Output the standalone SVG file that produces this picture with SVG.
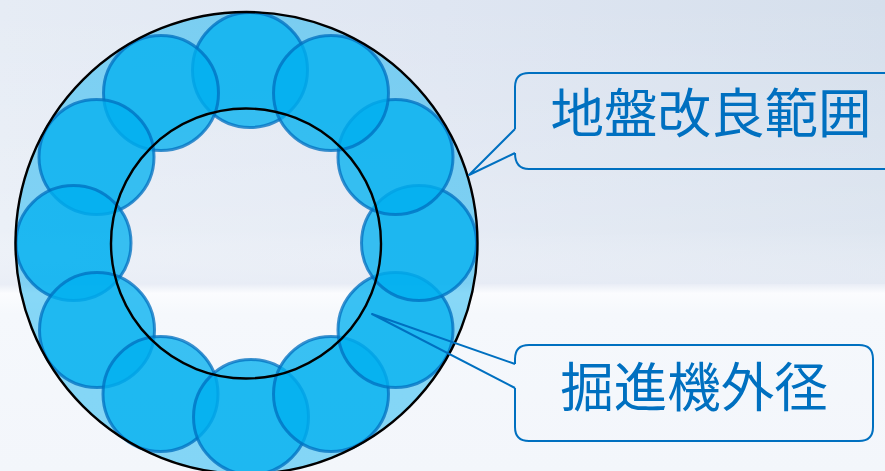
<svg xmlns="http://www.w3.org/2000/svg" width="885" height="471" viewBox="0 0 885 471">
<style>
.pile{fill:#00b0f0;fill-opacity:.77;stroke:#0070c0;stroke-opacity:.76;stroke-width:3}
.ring{fill:none;stroke:#000;stroke-width:2.4}
.call{stroke:#0070c0;stroke-width:2;stroke-linejoin:round}
.lbl{font-family:"Noto Sans CJK JP","Noto Sans",sans-serif;font-size:53.500px;fill:#0070c0;text-anchor:middle}
</style>
<defs>
<linearGradient id="top" x1="0" y1="0" x2="1" y2="0"><stop offset="0" stop-color="#e6ecf5"/><stop offset=".5" stop-color="#dfe6f2"/><stop offset="1" stop-color="#d5dfec"/></linearGradient>
<linearGradient id="fade" x1="0" y1="0" x2="0" y2="1"><stop offset="0" stop-color="#fff" stop-opacity="0"/><stop offset=".8" stop-color="#fff" stop-opacity=".22"/><stop offset="1" stop-color="#e9edf6" stop-opacity=".7"/></linearGradient>
<linearGradient id="bot" x1="0" y1="0" x2="0" y2="1"><stop offset="0" stop-color="#e9edf6"/><stop offset=".05" stop-color="#fbfcfe"/><stop offset=".16" stop-color="#f5f8fc"/><stop offset="1" stop-color="#f3f6fb"/></linearGradient>
</defs>
<g id="background">
<rect width="885" height="290" fill="url(#top)"/>
<rect width="885" height="290" fill="url(#fade)"/>
<rect y="284" width="885" height="187" fill="url(#bot)"/>
</g>
<g id="improvement-ring">
<path fill="#00aef0" fill-opacity=".46" fill-rule="evenodd" d="M15.500 243a231 231 0 1 0 462 0a231 231 0 1 0 -462 0ZM111 243.500a135 135 0 1 0 270 0a135 135 0 1 0 -270 0Z"/>
</g>
<g id="piles">
<circle class="pile" cx="250" cy="70" r="57.500"/>
<circle class="pile" cx="161" cy="93" r="57.500"/>
<circle class="pile" cx="96.500" cy="157" r="57.500"/>
<circle class="pile" cx="73.500" cy="243" r="57.500"/>
<circle class="pile" cx="97" cy="330" r="57.500"/>
<circle class="pile" cx="160.500" cy="394" r="57.500"/>
<circle class="pile" cx="251" cy="417" r="57.500"/>
<circle class="pile" cx="331" cy="394" r="57.500"/>
<circle class="pile" cx="395.500" cy="330" r="57.500"/>
<circle class="pile" cx="419" cy="243" r="57.500"/>
<circle class="pile" cx="395.500" cy="157" r="57.500"/>
<circle class="pile" cx="331" cy="93" r="57.500"/>
</g>
<g id="outlines">
<circle class="ring" cx="246.500" cy="243" r="231"/>
<circle class="ring" cx="246" cy="243.500" r="135"/>
</g>
<g id="connectors">
<path class="call" fill="none" d="M515 129L469 175L515 153"/>
<path class="call" fill="none" d="M515 364L372 314L515 388"/>
</g>
<g id="callout-ground">
<path class="call" fill="none" d="M515 129V87Q515 73 529 73H887V169H529Q515 169 515 153"/>
<text class="lbl" x="711" y="133">地盤改良範囲</text>
</g>
<g id="callout-machine">
<path class="call" fill="none" d="M515 364V359Q515 345 529 345H859Q873 345 873 359V427Q873 441 859 441H529Q515 441 515 427V388"/>
<text class="lbl" x="694" y="407">掘進機外径</text>
</g>
</svg>
